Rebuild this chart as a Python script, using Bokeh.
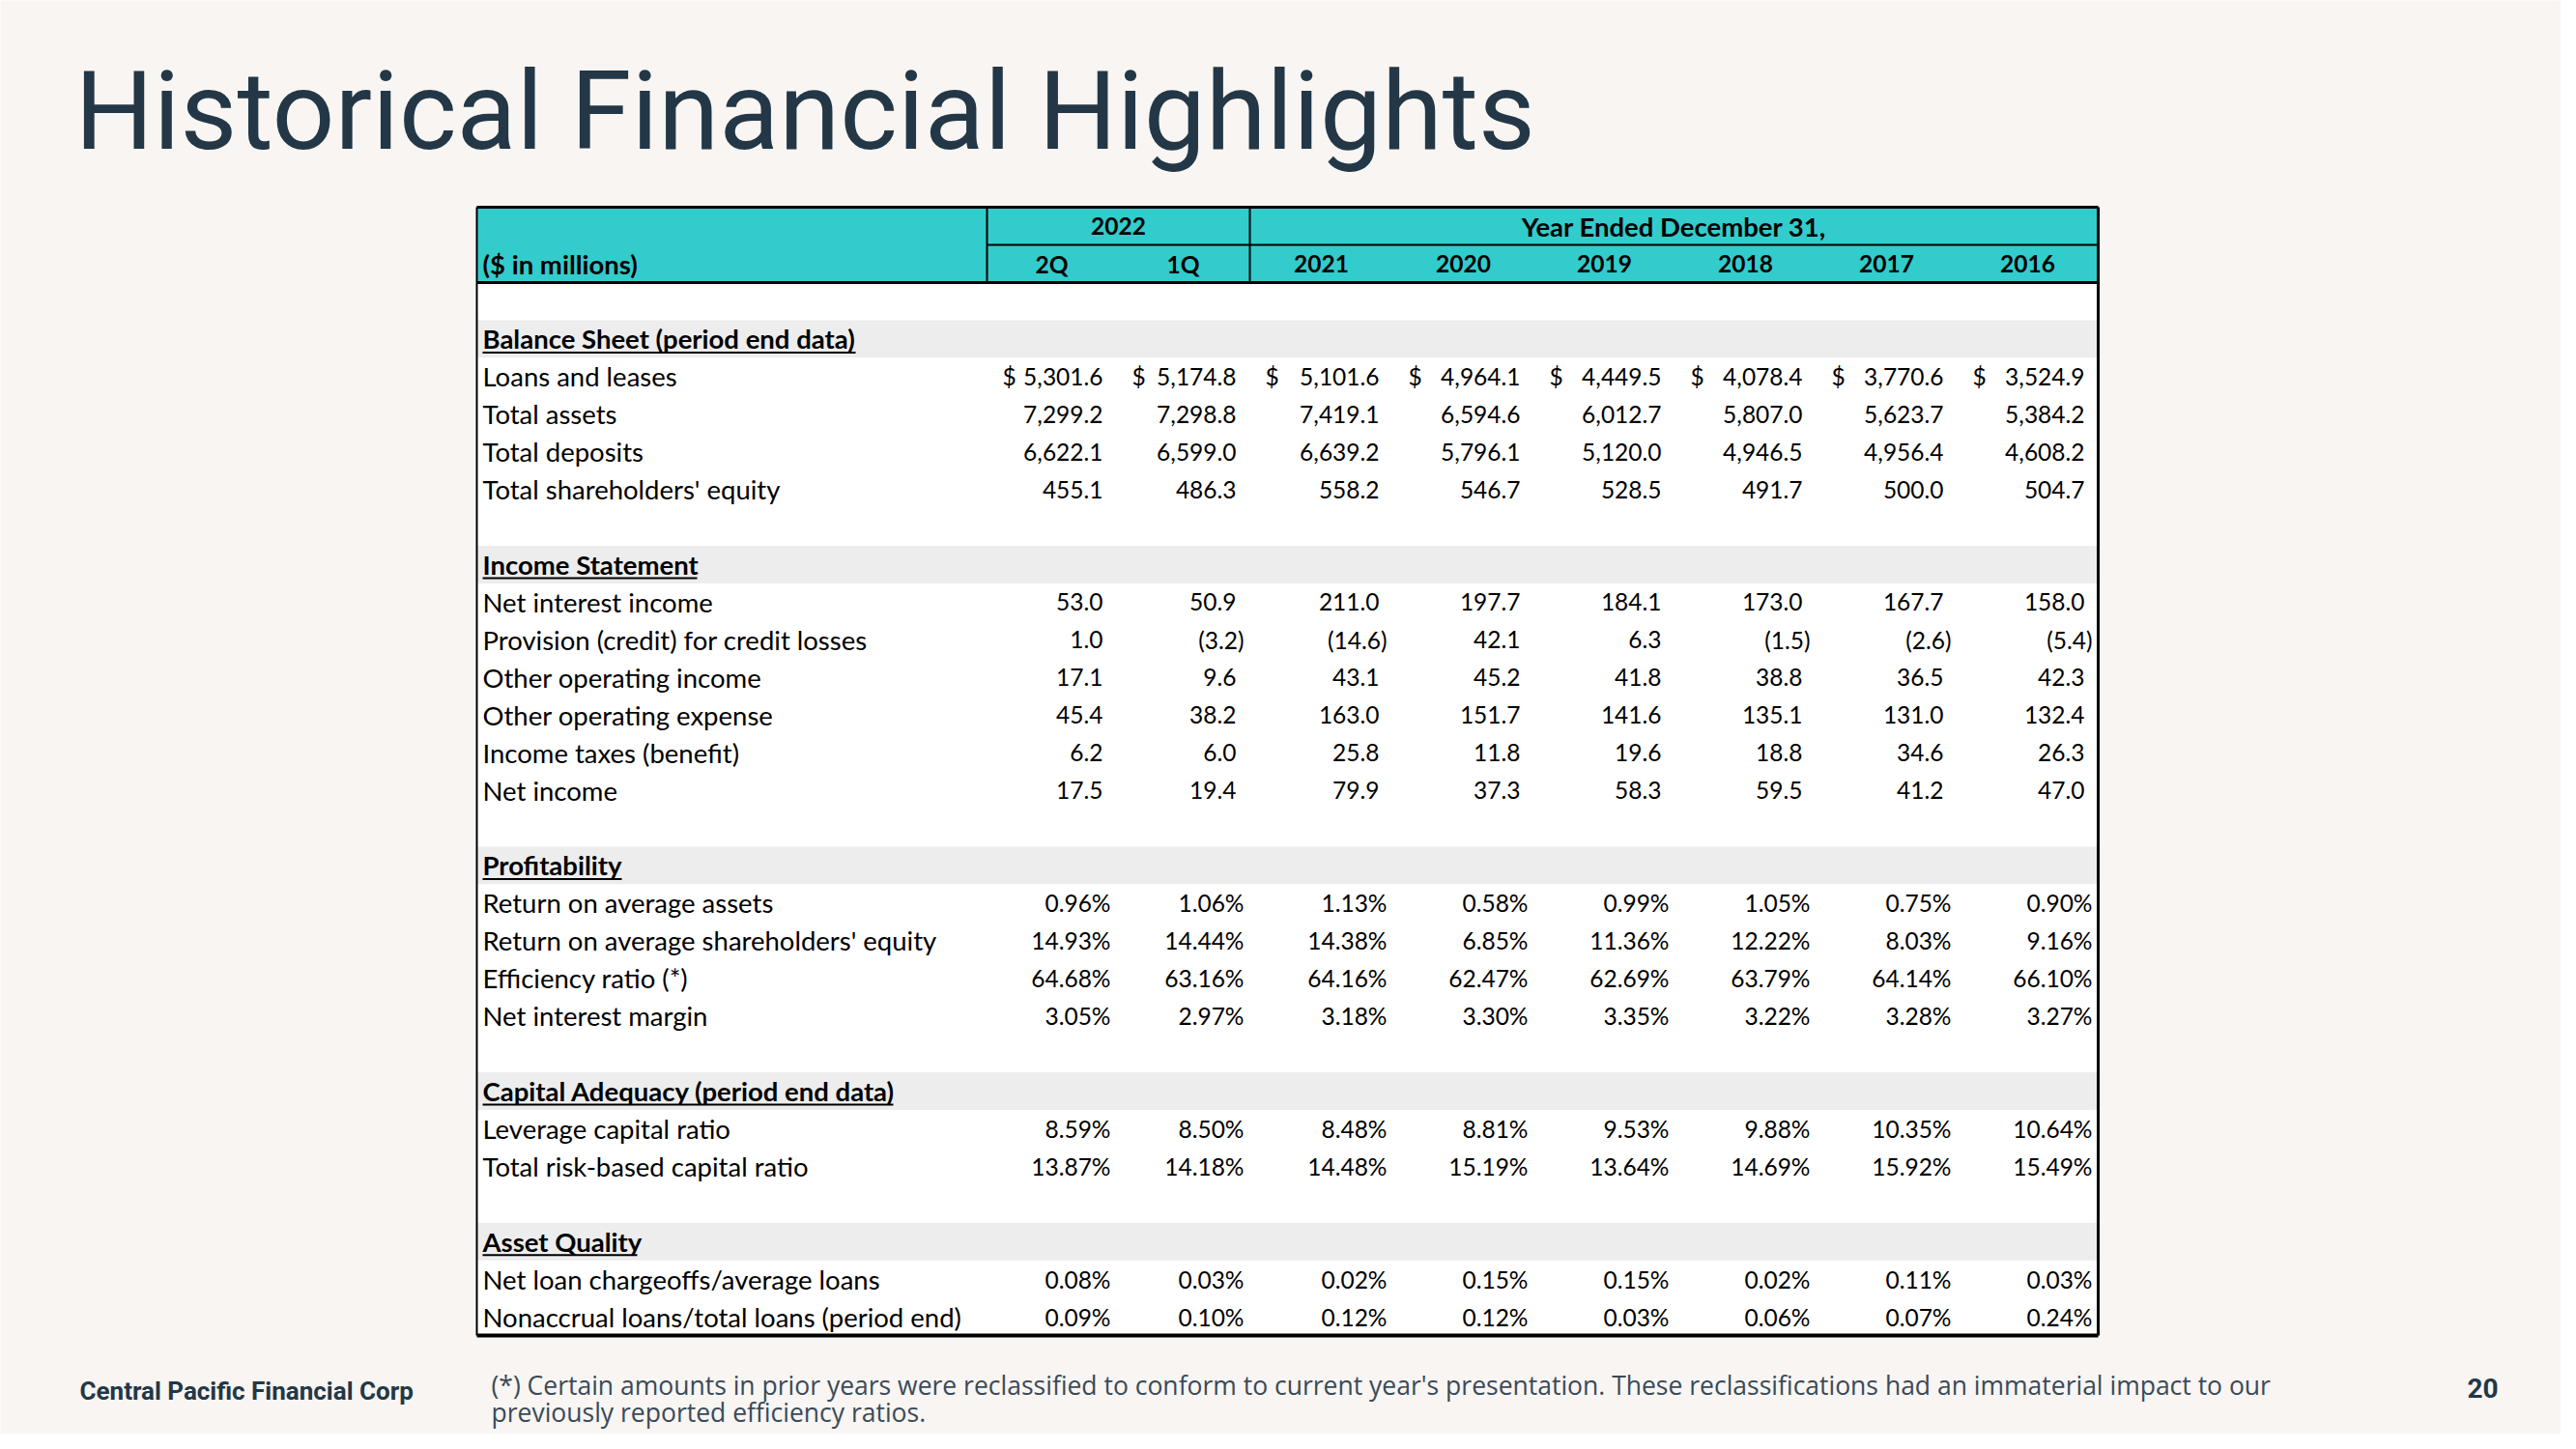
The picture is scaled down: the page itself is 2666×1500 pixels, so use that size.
from bokeh.plotting import figure
from bokeh.models import Range1d
from bokeh.embed import file_html
from bokeh.resources import INLINE
from bokeh.core.properties import value

# ---------------- DATA ----------------
title = "Historical Financial Highlights"
group_labels = ["2022", "Year Ended December 31,"]
group_spans = [(0, 2), (2, 8)]
periods = ["2Q", "1Q", "2021", "2020", "2019", "2018", "2017", "2016"]
unit_label = "($ in millions)"

loans_and_leases = [5301.6, 5174.8, 5101.6, 4964.1, 4449.5, 4078.4, 3770.6, 3524.9]
total_assets = [7299.2, 7298.8, 7419.1, 6594.6, 6012.7, 5807.0, 5623.7, 5384.2]
total_deposits = [6622.1, 6599.0, 6639.2, 5796.1, 5120.0, 4946.5, 4956.4, 4608.2]
shareholders_equity = [455.1, 486.3, 558.2, 546.7, 528.5, 491.7, 500.0, 504.7]

net_interest_income = [53.0, 50.9, 211.0, 197.7, 184.1, 173.0, 167.7, 158.0]
provision_credit_losses = [1.0, -3.2, -14.6, 42.1, 6.3, -1.5, -2.6, -5.4]
other_operating_income = [17.1, 9.6, 43.1, 45.2, 41.8, 38.8, 36.5, 42.3]
other_operating_expense = [45.4, 38.2, 163.0, 151.7, 141.6, 135.1, 131.0, 132.4]
income_taxes = [6.2, 6.0, 25.8, 11.8, 19.6, 18.8, 34.6, 26.3]
net_income = [17.5, 19.4, 79.9, 37.3, 58.3, 59.5, 41.2, 47.0]

return_on_assets = [0.96, 1.06, 1.13, 0.58, 0.99, 1.05, 0.75, 0.90]
return_on_equity = [14.93, 14.44, 14.38, 6.85, 11.36, 12.22, 8.03, 9.16]
efficiency_ratio = [64.68, 63.16, 64.16, 62.47, 62.69, 63.79, 64.14, 66.10]
net_interest_margin = [3.05, 2.97, 3.18, 3.30, 3.35, 3.22, 3.28, 3.27]

leverage_ratio = [8.59, 8.50, 8.48, 8.81, 9.53, 9.88, 10.35, 10.64]
total_risk_based_ratio = [13.87, 14.18, 14.48, 15.19, 13.64, 14.69, 15.92, 15.49]

net_chargeoffs = [0.08, 0.03, 0.02, 0.15, 0.15, 0.02, 0.11, 0.03]
nonaccrual_loans = [0.09, 0.10, 0.12, 0.12, 0.03, 0.06, 0.07, 0.24]

sections = [
    ("Balance Sheet (period end data)", [
        ("Loans and leases", loans_and_leases, "dollar"),
        ("Total assets", total_assets, "num"),
        ("Total deposits", total_deposits, "num"),
        ("Total shareholders' equity", shareholders_equity, "num"),
    ]),
    ("Income Statement", [
        ("Net interest income", net_interest_income, "num"),
        ("Provision (credit) for credit losses", provision_credit_losses, "num"),
        ("Other operating income", other_operating_income, "num"),
        ("Other operating expense", other_operating_expense, "num"),
        ("Income taxes (benefit)", income_taxes, "num"),
        ("Net income", net_income, "num"),
    ]),
    ("Profitability", [
        ("Return on average assets", return_on_assets, "pct"),
        ("Return on average shareholders' equity", return_on_equity, "pct"),
        ("Efficiency ratio (*)", efficiency_ratio, "pct"),
        ("Net interest margin", net_interest_margin, "pct"),
    ]),
    ("Capital Adequacy (period end data)", [
        ("Leverage capital ratio", leverage_ratio, "pct"),
        ("Total risk-based capital ratio", total_risk_based_ratio, "pct"),
    ]),
    ("Asset Quality", [
        ("Net loan chargeoffs/average loans", net_chargeoffs, "pct"),
        ("Nonaccrual loans/total loans (period end)", nonaccrual_loans, "pct"),
    ]),
]

company = "Central Pacific Financial Corp"
footnote_lines = [
    "(*) Certain amounts in prior years were reclassified to conform to current year's presentation. These reclassifications had an immaterial impact to our",
    "previously reported efficiency ratios.",
]
page_number = "20"

# ---------------- LAYOUT / STYLE ----------------
W, H = 2650, 1484
BG = "#f8f5f2"
NAVY = "#233746"
TEAL = "#33cccc"
BAND = "#ededed"
TFONT = value("Lato")
TSIZE = "27.5px"   # labels
NSIZE = "24.5px"   # numbers

col_edges = [493, 1021, 1155, 1293, 1441, 1587, 1733, 1879, 2025, 2171]
tbl_left, tbl_right = col_edges[0], col_edges[-1]
tbl_top, hdr_mid, hdr_bot, tbl_bot = 214, 253, 292, 1382
n_rows = sum(len(r) + 2 for _, r in sections)
row_h = (tbl_bot - hdr_bot) / n_rows
label_x = 499
right_pad = 14
hang = 8
dollar_pad = 16
underline_len = [386, 222, 144, 425, 160]  # style: length of header underlines

p = figure(width=W, height=H, x_range=Range1d(0, W), y_range=Range1d(H, 0),
           output_backend="svg", toolbar_location=None, min_border=0)
p.axis.visible = False
p.grid.visible = False
p.outline_line_color = None
p.background_fill_color = BG
p.border_fill_color = BG

# table body & header background
p.quad(left=[tbl_left], right=[tbl_right], top=[hdr_bot], bottom=[tbl_bot], fill_color="white", line_color=None)
p.quad(left=[tbl_left], right=[tbl_right], top=[tbl_top], bottom=[hdr_bot], fill_color=TEAL, line_color=None)

# build rows
row_labels, row_y, sec_names, sec_y = [], [], [], []
val_x, val_y, val_t = [], [], []
dol_x, dol_y = [], []
r = 0
for name, rows in sections:
    r += 1  # blank row
    yc = hdr_bot + (r + 0.5) * row_h
    sec_names.append(name)
    sec_y.append(yc)
    r += 1
    for lab, vals, kind in rows:
        yc = hdr_bot + (r + 0.5) * row_h
        row_labels.append(lab)
        row_y.append(yc)
        for j, v in enumerate(vals):
            anchor = col_edges[j + 2] - right_pad
            if kind == "pct":
                txt = f"{v:.2f}%"
                xx = anchor + hang
            elif v < 0:
                txt = f"({abs(v):,.1f})"
                xx = anchor + hang
            else:
                txt = f"{v:,.1f}"
                xx = anchor
            val_x.append(xx)
            val_y.append(yc)
            val_t.append(txt)
            if kind == "dollar":
                dol_x.append(col_edges[j + 1] + dollar_pad)
                dol_y.append(yc)
        r += 1

# gray section bands
p.quad(left=[tbl_left] * len(sec_y), right=[tbl_right] * len(sec_y),
       top=[y - row_h / 2 for y in sec_y], bottom=[y + row_h / 2 for y in sec_y],
       fill_color=BAND, line_color=None)

# texts
p.text(x=[label_x] * len(row_labels), y=row_y, text=row_labels, text_align="left", text_baseline="middle",
       text_font=TFONT, text_font_size=TSIZE, text_color="black")
p.text(x=[label_x] * len(sec_names), y=sec_y, text=sec_names, text_align="left", text_baseline="middle",
       text_font=TFONT, text_font_size=TSIZE, text_font_style="bold", text_color="black")
p.text(x=val_x, y=val_y, text=val_t, text_align="right", text_baseline="middle",
       text_font=TFONT, text_font_size=NSIZE, text_color="black")
p.text(x=dol_x, y=dol_y, text=["$"] * len(dol_x), text_align="left", text_baseline="middle",
       text_font=TFONT, text_font_size=NSIZE, text_color="black")

# underline for section headers
p.segment(x0=[label_x] * len(sec_names), x1=[label_x + w for w in underline_len],
          y0=[y + 14 for y in sec_y], y1=[y + 14 for y in sec_y], line_color="black", line_width=2)

# header texts
h1 = (tbl_top + hdr_mid) / 2
h2 = (hdr_mid + hdr_bot) / 2
gx = [(col_edges[a + 1] + col_edges[b + 1]) / 2 for a, b in group_spans]
p.text(x=gx[:1], y=[h1], text=group_labels[:1], text_align="center", text_baseline="middle",
       text_font=TFONT, text_font_size=NSIZE, text_font_style="bold", text_color="black")
p.text(x=gx[1:], y=[h1], text=group_labels[1:], text_align="center", text_baseline="middle",
       text_font=TFONT, text_font_size=TSIZE, text_font_style="bold", text_color="black")
px = [(col_edges[j + 1] + col_edges[j + 2]) / 2 for j in range(len(periods))]
p.text(x=px, y=[h2] * len(px), text=periods, text_align="center", text_baseline="middle",
       text_font=TFONT, text_font_size=NSIZE, text_font_style="bold", text_color="black")
p.text(x=[label_x], y=[h2], text=[unit_label], text_align="left", text_baseline="middle",
       text_font=TFONT, text_font_size=TSIZE, text_font_style="bold", text_color="black")

# table lines
p.segment(x0=[tbl_left, tbl_left, col_edges[1]], x1=[tbl_right, tbl_right, tbl_right],
          y0=[tbl_top, hdr_bot, hdr_mid], y1=[tbl_top, hdr_bot, hdr_mid],
          line_color="black", line_width=[3, 3, 2])
p.segment(x0=[tbl_left], x1=[tbl_right], y0=[tbl_bot], y1=[tbl_bot], line_color="black", line_width=4)
p.segment(x0=[tbl_left, tbl_right], x1=[tbl_left, tbl_right], y0=[tbl_top, tbl_top], y1=[tbl_bot, tbl_bot],
          line_color="black", line_width=[2, 3])
p.segment(x0=[col_edges[1], col_edges[3]], x1=[col_edges[1], col_edges[3]], y0=[tbl_top] * 2, y1=[hdr_bot] * 2,
          line_color="black", line_width=2)

# title & footer
p.text(x=[77], y=[114], text=[title], text_align="left", text_baseline="middle",
       text_font=value("Roboto"), text_font_size="114px", text_color=NAVY)
p.text(x=[82], y=[1439], text=[company], text_align="left", text_baseline="middle",
       text_font=value("Roboto"), text_font_size="26px", text_font_style="bold", text_color=NAVY)
p.text(x=[508, 508], y=[1433, 1461], text=footnote_lines, text_align="left", text_baseline="middle",
       text_font=value("Open Sans"), text_font_size="26.5px", text_color="#3a4a58")
p.text(x=[2553], y=[1436], text=[page_number], text_align="left", text_baseline="middle",
       text_font=value("Roboto"), text_font_size="28px", text_font_style="bold", text_color=NAVY)

open("out.html", "w").write(file_html(p, INLINE))
